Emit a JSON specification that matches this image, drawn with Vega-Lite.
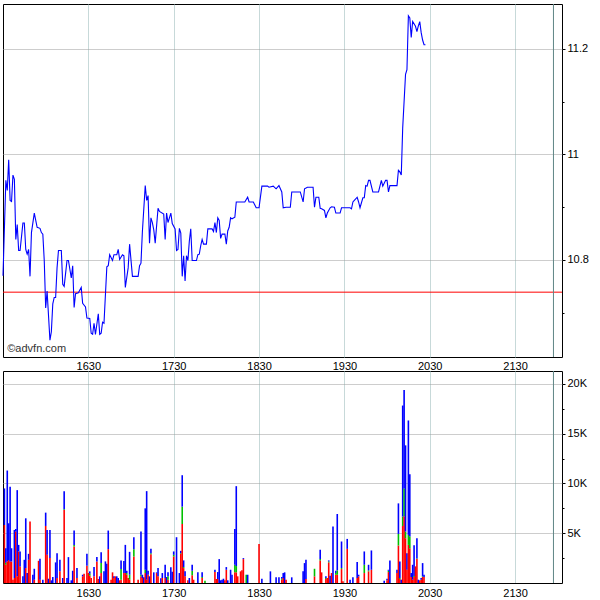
{
  "$schema": "https://vega.github.io/schema/vega-lite/v6.json",
  "padding": {"left": 0, "top": 3, "right": 0, "bottom": 0},
  "background": "white",
  "spacing": 14,
  "bounds": "flush",
  "config": {
    "view": {"stroke": "#000000", "strokeWidth": 1},
    "axis": {"labelFont": "Liberation Sans", "labelFontSize": 11, "labelColor": "#000000", "domain": false, "gridDash": [1, 1], "gridWidth": 1, "title": null}
  },
  "vconcat": [
    {
      "width": 559,
      "height": 353,
      "data": {
        "format": {"parse": {"time": "utc:'%H:%M'"}},
        "values": [
          {"time":"15:30","price":10.77},{"time":"15:32","price":10.951},{"time":"15:33","price":10.932},{"time":"15:34","price":10.99},
          {"time":"15:35","price":10.913},{"time":"15:36","price":10.911},{"time":"15:37","price":10.961},{"time":"15:38","price":10.953},
          {"time":"15:39","price":10.839},{"time":"15:40","price":10.867},{"time":"15:41","price":10.818},{"time":"15:42","price":10.818},
          {"time":"15:44","price":10.87},{"time":"15:45","price":10.87},{"time":"15:46","price":10.82},{"time":"15:47","price":10.811},
          {"time":"15:48","price":10.82},{"time":"15:49","price":10.769},{"time":"15:50","price":10.852},{"time":"15:52","price":10.889},
          {"time":"15:54","price":10.862},{"time":"15:56","price":10.86},{"time":"15:57","price":10.852},{"time":"15:58","price":10.849},
          {"time":"15:59","price":10.799},{"time":"16:00","price":10.709},{"time":"16:01","price":10.741},{"time":"16:03","price":10.648},
          {"time":"16:04","price":10.664},{"time":"16:05","price":10.717},{"time":"16:06","price":10.729},{"time":"16:07","price":10.729},
          {"time":"16:08","price":10.785},{"time":"16:09","price":10.818},{"time":"16:11","price":10.818},{"time":"16:12","price":10.754},
          {"time":"16:13","price":10.75},{"time":"16:15","price":10.799},{"time":"16:16","price":10.799},{"time":"16:18","price":10.766},
          {"time":"16:19","price":10.789},{"time":"16:20","price":10.71},{"time":"16:21","price":10.736},{"time":"16:23","price":10.738},
          {"time":"16:25","price":10.748},{"time":"16:26","price":10.718},{"time":"16:28","price":10.711},{"time":"16:29","price":10.69},
          {"time":"16:31","price":10.689},{"time":"16:32","price":10.661},{"time":"16:33","price":10.659},{"time":"16:34","price":10.68},
          {"time":"16:35","price":10.659},{"time":"16:37","price":10.698},{"time":"16:38","price":10.659},{"time":"16:39","price":10.661},
          {"time":"16:40","price":10.682},{"time":"16:41","price":10.68},{"time":"16:43","price":10.787},{"time":"16:44","price":10.789},
          {"time":"16:45","price":10.81},{"time":"16:47","price":10.799},{"time":"16:48","price":10.81},{"time":"16:50","price":10.81},
          {"time":"16:51","price":10.82},{"time":"16:52","price":10.801},{"time":"16:54","price":10.81},{"time":"16:55","price":10.808},
          {"time":"16:56","price":10.748},{"time":"16:58","price":10.785},{"time":"16:59","price":10.83},{"time":"17:01","price":10.769},
          {"time":"17:05","price":10.769},{"time":"17:06","price":10.789},{"time":"17:07","price":10.794},{"time":"17:08","price":10.854},
          {"time":"17:10","price":10.941},{"time":"17:11","price":10.913},{"time":"17:12","price":10.922},{"time":"17:13","price":10.832},
          {"time":"17:14","price":10.88},{"time":"17:15","price":10.871},{"time":"17:16","price":10.857},{"time":"17:17","price":10.832},
          {"time":"17:19","price":10.898},{"time":"17:20","price":10.892},{"time":"17:23","price":10.887},{"time":"17:24","price":10.839},
          {"time":"17:25","price":10.889},{"time":"17:26","price":10.871},{"time":"17:28","price":10.889},{"time":"17:29","price":10.869},
          {"time":"17:31","price":10.859},{"time":"17:32","price":10.818},{"time":"17:33","price":10.82},{"time":"17:34","price":10.86},
          {"time":"17:35","price":10.851},{"time":"17:36","price":10.769},{"time":"17:37","price":10.808},{"time":"17:38","price":10.76},
          {"time":"17:39","price":10.808},{"time":"17:40","price":10.799},{"time":"17:41","price":10.836},{"time":"17:42","price":10.859},
          {"time":"17:43","price":10.799},{"time":"17:46","price":10.799},{"time":"17:47","price":10.81},{"time":"17:48","price":10.811},
          {"time":"17:49","price":10.827},{"time":"17:50","price":10.839},{"time":"17:51","price":10.83},{"time":"17:53","price":10.83},
          {"time":"17:54","price":10.859},{"time":"17:57","price":10.859},{"time":"17:58","price":10.854},{"time":"17:59","price":10.871},
          {"time":"18:00","price":10.852},{"time":"18:01","price":10.88},{"time":"18:02","price":10.875},{"time":"18:03","price":10.841},
          {"time":"18:04","price":10.849},{"time":"18:06","price":10.849},{"time":"18:07","price":10.83},{"time":"18:08","price":10.855},
          {"time":"18:09","price":10.862},{"time":"18:10","price":10.88},{"time":"18:11","price":10.878},{"time":"18:13","price":10.881},
          {"time":"18:14","price":10.91},{"time":"18:20","price":10.91},{"time":"18:22","price":10.919},{"time":"18:23","price":10.91},
          {"time":"18:26","price":10.91},{"time":"18:28","price":10.899},{"time":"18:30","price":10.899},{"time":"18:32","price":10.94},
          {"time":"18:36","price":10.94},{"time":"18:37","price":10.938},{"time":"18:40","price":10.94},{"time":"18:42","price":10.935},
          {"time":"18:44","price":10.941},{"time":"18:46","price":10.929},{"time":"18:47","price":10.899},{"time":"18:49","price":10.9},
          {"time":"18:52","price":10.9},{"time":"18:53","price":10.929},{"time":"18:59","price":10.929},{"time":"19:01","price":10.91},
          {"time":"19:02","price":10.935},{"time":"19:04","price":10.938},{"time":"19:08","price":10.938},{"time":"19:09","price":10.9},
          {"time":"19:10","price":10.919},{"time":"19:12","price":10.919},{"time":"19:13","price":10.898},{"time":"19:14","price":10.897},
          {"time":"19:16","price":10.894},{"time":"19:17","price":10.88},{"time":"19:18","price":10.889},{"time":"19:20","price":10.899},
          {"time":"19:21","price":10.901},{"time":"19:23","price":10.9},{"time":"19:24","price":10.889},{"time":"19:27","price":10.889},
          {"time":"19:28","price":10.899},{"time":"19:34","price":10.899},{"time":"19:35","price":10.897},{"time":"19:36","price":10.91},
          {"time":"19:37","price":10.913},{"time":"19:39","price":10.919},{"time":"19:40","price":10.91},{"time":"19:41","price":10.899},
          {"time":"19:43","price":10.918},{"time":"19:44","price":10.918},{"time":"19:45","price":10.941},{"time":"19:46","price":10.94},
          {"time":"19:47","price":10.951},{"time":"19:48","price":10.951},{"time":"19:50","price":10.929},{"time":"19:54","price":10.929},
          {"time":"19:56","price":10.951},{"time":"19:57","price":10.94},{"time":"19:59","price":10.951},{"time":"20:00","price":10.951},
          {"time":"20:01","price":10.929},{"time":"20:02","price":10.941},{"time":"20:07","price":10.941},{"time":"20:08","price":10.97},
          {"time":"20:09","price":10.967},{"time":"20:10","price":10.961},{"time":"20:11","price":11.05},{"time":"20:13","price":11.152},
          {"time":"20:14","price":11.161},{"time":"20:15","price":11.263},{"time":"20:16","price":11.259},{"time":"20:17","price":11.222},
          {"time":"20:18","price":11.252},{"time":"20:20","price":11.243},{"time":"20:21","price":11.233},{"time":"20:22","price":11.244},
          {"time":"20:23","price":11.252},{"time":"20:24","price":11.231},{"time":"20:25","price":11.217},{"time":"20:26","price":11.208},
          {"time":"20:27","price":11.208}
        ]
      },
      "layer": [
        {
          "data": {"values": [{}]},
          "mark": {"type": "rule", "color": "#ff0000", "strokeWidth": 1},
          "encoding": {"y": {"datum": 10.739}}
        },
        {
          "data": {"values": [{}]},
          "mark": {"type": "rule", "color": "#5f8585", "strokeWidth": 1},
          "encoding": {"x": {"datum": {"year": 1900, "month": 1, "date": 1, "hours": 21, "minutes": 57, "utc": true}}}
        },
        {
          "mark": {"type": "line", "color": "#0000ff", "strokeWidth": 1.1},
          "encoding": {
            "x": {
              "field": "time", "type": "temporal",
              "scale": {"type": "utc", "padding": 0, "domain": [
                {"year": 1900, "month": 1, "date": 1, "hours": 15, "minutes": 30, "utc": true},
                {"year": 1900, "month": 1, "date": 1, "hours": 22, "minutes": 3, "utc": true}]},
              "axis": {
                "orient": "bottom",
                "values": [
                  {"year": 1900, "month": 1, "date": 1, "hours": 16, "minutes": 30, "utc": true},
                  {"year": 1900, "month": 1, "date": 1, "hours": 17, "minutes": 30, "utc": true},
                  {"year": 1900, "month": 1, "date": 1, "hours": 18, "minutes": 30, "utc": true},
                  {"year": 1900, "month": 1, "date": 1, "hours": 19, "minutes": 30, "utc": true},
                  {"year": 1900, "month": 1, "date": 1, "hours": 20, "minutes": 30, "utc": true},
                  {"year": 1900, "month": 1, "date": 1, "hours": 21, "minutes": 30, "utc": true}],
                "labelExpr": "utcFormat(datum.value, '%H%M')",
                "ticks": false, "labelPadding": 3, "labelFlush": false, "labelOverlap": false,
                "grid": true, "gridColor": "#8fb3b3"
              }
            },
            "y": {
              "field": "price", "type": "quantitative",
              "scale": {"domain": [10.6161, 11.2853], "nice": false, "zero": false},
              "axis": {
                "orient": "right",
                "values": [10.7, 10.8, 10.9, 11, 11.1, 11.2],
                "labelExpr": "indexof([10.8, 11, 11.2], datum.value) >= 0 ? toString(datum.value) : ''",
                "tickColor": "#000000",
                "tickSize": {"condition": {"test": "indexof([10.8, 11, 11.2], datum.value) < 0", "value": 2}, "value": 3},
                "labelPadding": 2,
                "grid": true, "gridColor": "#9a9a9a",
                "gridOpacity": {"condition": {"test": "indexof([10.8, 11, 11.2], datum.value) < 0", "value": 0}, "value": 1}
              }
            }
          }
        },
        {
          "data": {"values": [{}]},
          "mark": {"type": "text", "align": "left", "baseline": "middle", "font": "Liberation Sans", "fontSize": 11, "color": "#333333"},
          "encoding": {
            "x": {"datum": {"year": 1900, "month": 1, "date": 1, "hours": 15, "minutes": 33, "utc": true}},
            "y": {"datum": 10.631},
            "text": {"value": "©advfn.com"}
          }
        }
      ]
    },
    {
      "width": 559,
      "height": 212,
      "data": {
        "format": {"parse": {"time": "utc:'%H:%M'"}},
        "values": [
          {"time":"15:31","s":"sell","v":5830},{"time":"15:31","s":"buy","v":3670},
          {"time":"15:32","s":"sell","v":1830},{"time":"15:32","s":"mid","v":200},{"time":"15:32","s":"buy","v":1470},
          {"time":"15:33","s":"sell","v":2170},{"time":"15:33","s":"buy","v":9130},
          {"time":"15:34","s":"sell","v":2300},{"time":"15:34","s":"buy","v":3700},
          {"time":"15:35","s":"sell","v":2170},{"time":"15:35","s":"buy","v":7500},
          {"time":"15:36","s":"sell","v":2170},{"time":"15:36","s":"buy","v":1330},
          {"time":"15:37","s":"sell","v":330},
          {"time":"15:38","s":"sell","v":500},{"time":"15:38","s":"buy","v":4830},
          {"time":"15:39","s":"sell","v":5170},{"time":"15:39","s":"buy","v":260},
          {"time":"15:40","s":"sell","v":670},{"time":"15:40","s":"buy","v":8660},
          {"time":"15:41","s":"sell","v":3170},{"time":"15:41","s":"buy","v":660},
          {"time":"15:42","s":"sell","v":1670},{"time":"15:42","s":"buy","v":1500},
          {"time":"15:44","s":"buy","v":670},
          {"time":"15:45","s":"buy","v":2330},
          {"time":"15:46","s":"sell","v":1500},{"time":"15:46","s":"buy","v":5000},
          {"time":"15:47","s":"buy","v":1000},
          {"time":"15:48","s":"sell","v":2330},{"time":"15:48","s":"buy","v":600},
          {"time":"15:49","s":"sell","v":6170},
          {"time":"15:51","s":"buy","v":830},
          {"time":"15:52","s":"sell","v":330},{"time":"15:52","s":"buy","v":1100},
          {"time":"15:55","s":"sell","v":2230},
          {"time":"15:56","s":"sell","v":330},{"time":"15:56","s":"buy","v":2100},
          {"time":"15:58","s":"buy","v":330},
          {"time":"16:00","s":"sell","v":5730},{"time":"16:00","s":"buy","v":1340},
          {"time":"16:01","s":"sell","v":2830},{"time":"16:01","s":"buy","v":2500},
          {"time":"16:02","s":"buy","v":430},
          {"time":"16:03","s":"sell","v":2500},{"time":"16:03","s":"buy","v":2830},
          {"time":"16:04","s":"buy","v":270},
          {"time":"16:05","s":"buy","v":600},
          {"time":"16:07","s":"buy","v":2070},
          {"time":"16:08","s":"sell","v":500},{"time":"16:08","s":"buy","v":2500},
          {"time":"16:10","s":"sell","v":1170},{"time":"16:10","s":"buy","v":1160},
          {"time":"16:12","s":"buy","v":500},
          {"time":"16:13","s":"sell","v":7330},{"time":"16:13","s":"mid","v":70},{"time":"16:13","s":"buy","v":1830},
          {"time":"16:15","s":"buy","v":500},
          {"time":"16:16","s":"buy","v":2600},
          {"time":"16:18","s":"buy","v":270},
          {"time":"16:19","s":"buy","v":1230},
          {"time":"16:20","s":"sell","v":3670},{"time":"16:20","s":"mid","v":160},{"time":"16:20","s":"buy","v":1440},
          {"time":"16:22","s":"sell","v":500},{"time":"16:22","s":"buy","v":1000},
          {"time":"16:26","s":"sell","v":670},{"time":"16:26","s":"buy","v":160},
          {"time":"16:27","s":"sell","v":930},
          {"time":"16:29","s":"sell","v":1730},{"time":"16:29","s":"buy","v":1200},
          {"time":"16:30","s":"sell","v":1000},
          {"time":"16:31","s":"sell","v":730},{"time":"16:31","s":"mid","v":200},{"time":"16:31","s":"buy","v":240},
          {"time":"16:32","s":"sell","v":500},
          {"time":"16:34","s":"sell","v":670},{"time":"16:34","s":"buy","v":930},
          {"time":"16:36","s":"sell","v":2170},{"time":"16:36","s":"buy","v":430},
          {"time":"16:37","s":"sell","v":400},
          {"time":"16:38","s":"buy","v":670},
          {"time":"16:39","s":"sell","v":1000},{"time":"16:39","s":"mid","v":1000},{"time":"16:39","s":"buy","v":1100},
          {"time":"16:41","s":"buy","v":1170},
          {"time":"16:42","s":"buy","v":2170},
          {"time":"16:43","s":"buy","v":1930},
          {"time":"16:44","s":"sell","v":3400},{"time":"16:44","s":"buy","v":1870},
          {"time":"16:46","s":"sell","v":330},
          {"time":"16:47","s":"sell","v":1070},
          {"time":"16:48","s":"sell","v":500},{"time":"16:48","s":"buy","v":170},
          {"time":"16:49","s":"sell","v":670},
          {"time":"16:50","s":"buy","v":670},
          {"time":"16:51","s":"buy","v":500},
          {"time":"16:52","s":"sell","v":270},
          {"time":"16:53","s":"sell","v":330},{"time":"16:53","s":"mid","v":1070},{"time":"16:53","s":"buy","v":870},
          {"time":"16:55","s":"sell","v":1000},{"time":"16:55","s":"buy","v":1200},
          {"time":"16:56","s":"sell","v":1000},{"time":"16:56","s":"buy","v":2830},
          {"time":"16:57","s":"sell","v":830},{"time":"16:57","s":"mid","v":170},{"time":"16:57","s":"buy","v":230},
          {"time":"16:58","s":"sell","v":500},
          {"time":"16:59","s":"sell","v":330},{"time":"16:59","s":"mid","v":500},{"time":"16:59","s":"buy","v":2300},
          {"time":"17:02","s":"sell","v":2670},{"time":"17:02","s":"mid","v":730},{"time":"17:02","s":"buy","v":1200},
          {"time":"17:05","s":"sell","v":330},
          {"time":"17:07","s":"sell","v":670},{"time":"17:07","s":"mid","v":160},{"time":"17:07","s":"buy","v":4340},
          {"time":"17:08","s":"sell","v":500},{"time":"17:08","s":"buy","v":330},
          {"time":"17:09","s":"buy","v":570},
          {"time":"17:10","s":"sell","v":1000},{"time":"17:10","s":"mid","v":330},{"time":"17:10","s":"buy","v":6170},
          {"time":"17:11","s":"sell","v":330},{"time":"17:11","s":"buy","v":8900},
          {"time":"17:12","s":"sell","v":830},{"time":"17:12","s":"buy","v":400},
          {"time":"17:13","s":"buy","v":670},
          {"time":"17:14","s":"sell","v":2900},{"time":"17:14","s":"mid","v":100},{"time":"17:14","s":"buy","v":430},
          {"time":"17:16","s":"buy","v":1070},
          {"time":"17:18","s":"sell","v":1000},{"time":"17:18","s":"buy","v":70},
          {"time":"17:19","s":"sell","v":670},{"time":"17:19","s":"buy","v":830},
          {"time":"17:21","s":"buy","v":470},
          {"time":"17:22","s":"sell","v":500},{"time":"17:22","s":"buy","v":500},
          {"time":"17:24","s":"sell","v":500},{"time":"17:24","s":"buy","v":1330},
          {"time":"17:25","s":"buy","v":600},
          {"time":"17:26","s":"sell","v":330},{"time":"17:26","s":"mid","v":340},{"time":"17:26","s":"buy","v":400},
          {"time":"17:28","s":"buy","v":1570},
          {"time":"17:29","s":"buy","v":1130},
          {"time":"17:30","s":"sell","v":2670},{"time":"17:30","s":"mid","v":160},{"time":"17:30","s":"buy","v":340},
          {"time":"17:32","s":"buy","v":4600},
          {"time":"17:34","s":"buy","v":1000},
          {"time":"17:35","s":"sell","v":2930},{"time":"17:35","s":"mid","v":70},{"time":"17:35","s":"buy","v":230},
          {"time":"17:36","s":"sell","v":5930},{"time":"17:36","s":"mid","v":1740},{"time":"17:36","s":"buy","v":3160},
          {"time":"17:37","s":"sell","v":1500},{"time":"17:37","s":"mid","v":100},{"time":"17:37","s":"buy","v":670},
          {"time":"17:38","s":"sell","v":670},{"time":"17:38","s":"buy","v":500},
          {"time":"17:40","s":"sell","v":270},
          {"time":"17:41","s":"buy","v":500},
          {"time":"17:43","s":"sell","v":770},{"time":"17:43","s":"mid","v":460},{"time":"17:43","s":"buy","v":600},
          {"time":"17:44","s":"sell","v":330},
          {"time":"17:47","s":"buy","v":1070},
          {"time":"17:50","s":"sell","v":500},{"time":"17:50","s":"mid","v":100},{"time":"17:50","s":"buy","v":470},
          {"time":"17:52","s":"mid","v":230},
          {"time":"17:59","s":"sell","v":1100},{"time":"17:59","s":"buy","v":230},
          {"time":"18:00","s":"sell","v":400},
          {"time":"18:01","s":"sell","v":400},{"time":"18:01","s":"buy","v":700},
          {"time":"18:02","s":"buy","v":2400},
          {"time":"18:03","s":"buy","v":270},
          {"time":"18:04","s":"buy","v":330},
          {"time":"18:05","s":"buy","v":430},
          {"time":"18:06","s":"sell","v":270},
          {"time":"18:07","s":"sell","v":1330},{"time":"18:07","s":"buy","v":270},
          {"time":"18:08","s":"buy","v":270},
          {"time":"18:10","s":"buy","v":1330},
          {"time":"18:11","s":"buy","v":830},
          {"time":"18:13","s":"sell","v":1070},{"time":"18:13","s":"mid","v":760},{"time":"18:13","s":"buy","v":3600},
          {"time":"18:14","s":"sell","v":1070},{"time":"18:14","s":"mid","v":630},{"time":"18:14","s":"buy","v":8030},
          {"time":"18:15","s":"sell","v":670},
          {"time":"18:17","s":"sell","v":1170},
          {"time":"18:18","s":"sell","v":1270},
          {"time":"18:19","s":"sell","v":2400},{"time":"18:19","s":"buy","v":100},
          {"time":"18:21","s":"mid","v":830},
          {"time":"18:22","s":"buy","v":830},
          {"time":"18:30","s":"sell","v":3930},
          {"time":"18:32","s":"buy","v":430},
          {"time":"18:38","s":"buy","v":1170},
          {"time":"18:42","s":"buy","v":570},
          {"time":"18:44","s":"buy","v":570},
          {"time":"18:46","s":"sell","v":330},{"time":"18:46","s":"mid","v":100},{"time":"18:46","s":"buy","v":170},
          {"time":"18:47","s":"sell","v":500},{"time":"18:47","s":"buy","v":500},
          {"time":"18:48","s":"buy","v":1070},
          {"time":"18:49","s":"sell","v":330},
          {"time":"18:53","s":"buy","v":570},
          {"time":"19:01","s":"buy","v":1170},
          {"time":"19:02","s":"buy","v":2000},
          {"time":"19:03","s":"sell","v":400},{"time":"19:03","s":"buy","v":1930},
          {"time":"19:09","s":"sell","v":670},{"time":"19:09","s":"mid","v":760},
          {"time":"19:13","s":"sell","v":2270},{"time":"19:13","s":"mid","v":130},{"time":"19:13","s":"buy","v":930},
          {"time":"19:14","s":"sell","v":1070},
          {"time":"19:17","s":"sell","v":400},{"time":"19:17","s":"mid","v":100},{"time":"19:17","s":"buy","v":170},
          {"time":"19:18","s":"sell","v":500},
          {"time":"19:19","s":"sell","v":2070},{"time":"19:19","s":"mid","v":100},{"time":"19:19","s":"buy","v":100},
          {"time":"19:20","s":"buy","v":730},
          {"time":"19:21","s":"sell","v":1000},
          {"time":"19:22","s":"buy","v":5670},
          {"time":"19:24","s":"sell","v":830},{"time":"19:24","s":"mid","v":170},{"time":"19:24","s":"buy","v":230},
          {"time":"19:25","s":"sell","v":830},{"time":"19:25","s":"mid","v":440},{"time":"19:25","s":"buy","v":5660},
          {"time":"19:28","s":"sell","v":1400},{"time":"19:28","s":"mid","v":100},{"time":"19:28","s":"buy","v":2670},
          {"time":"19:29","s":"sell","v":170},
          {"time":"19:32","s":"sell","v":3430},{"time":"19:32","s":"buy","v":1000},
          {"time":"19:34","s":"buy","v":330},
          {"time":"19:36","s":"buy","v":570},
          {"time":"19:39","s":"sell","v":500},{"time":"19:39","s":"buy","v":1600},
          {"time":"19:40","s":"sell","v":670},{"time":"19:40","s":"buy","v":160},
          {"time":"19:44","s":"sell","v":1000},{"time":"19:44","s":"mid","v":830},{"time":"19:44","s":"buy","v":1340},
          {"time":"19:47","s":"sell","v":1170},{"time":"19:47","s":"mid","v":100},{"time":"19:47","s":"buy","v":560},
          {"time":"19:49","s":"sell","v":1330},{"time":"19:49","s":"buy","v":1940},
          {"time":"19:58","s":"buy","v":230},
          {"time":"20:00","s":"sell","v":270},{"time":"20:00","s":"buy","v":160},
          {"time":"20:01","s":"sell","v":1100},{"time":"20:01","s":"mid","v":130},{"time":"20:01","s":"buy","v":100},
          {"time":"20:02","s":"buy","v":2270},
          {"time":"20:07","s":"sell","v":1000},{"time":"20:07","s":"buy","v":330},
          {"time":"20:08","s":"sell","v":3770},{"time":"20:08","s":"mid","v":1160},{"time":"20:08","s":"buy","v":3070},
          {"time":"20:09","s":"sell","v":400},{"time":"20:09","s":"mid","v":100},{"time":"20:09","s":"buy","v":1670},
          {"time":"20:10","s":"buy","v":330},
          {"time":"20:11","s":"sell","v":5730},{"time":"20:11","s":"mid","v":940},{"time":"20:11","s":"buy","v":11160},
          {"time":"20:12","s":"sell","v":6700},{"time":"20:12","s":"mid","v":2800},{"time":"20:12","s":"buy","v":9900},
          {"time":"20:13","s":"sell","v":4500},{"time":"20:13","s":"mid","v":670},{"time":"20:13","s":"buy","v":8660},
          {"time":"20:14","s":"sell","v":1330},{"time":"20:14","s":"buy","v":1670},
          {"time":"20:15","s":"sell","v":3830},{"time":"20:15","s":"mid","v":1000},{"time":"20:15","s":"buy","v":11500},
          {"time":"20:16","s":"sell","v":3500},{"time":"20:16","s":"mid","v":1170},{"time":"20:16","s":"buy","v":6260},
          {"time":"20:17","s":"sell","v":600},{"time":"20:17","s":"buy","v":400},
          {"time":"20:18","s":"sell","v":330},{"time":"20:18","s":"buy","v":1500},
          {"time":"20:19","s":"sell","v":600},{"time":"20:19","s":"mid","v":100},{"time":"20:19","s":"buy","v":3100},
          {"time":"20:20","s":"sell","v":1670},
          {"time":"20:21","s":"sell","v":2400},{"time":"20:21","s":"mid","v":50},{"time":"20:21","s":"buy","v":2050},
          {"time":"20:22","s":"buy","v":330},
          {"time":"20:23","s":"sell","v":270},
          {"time":"20:24","s":"sell","v":330},{"time":"20:24","s":"buy","v":170},
          {"time":"20:25","s":"sell","v":600},{"time":"20:25","s":"mid","v":70},{"time":"20:25","s":"buy","v":1330},
          {"time":"20:26","s":"sell","v":600},{"time":"20:26","s":"buy","v":230}
        ]
      },
      "layer": [
        {
          "data": {"values": [{}]},
          "mark": {"type": "rule", "color": "#5f8585", "strokeWidth": 1},
          "encoding": {"x": {"datum": {"year": 1900, "month": 1, "date": 1, "hours": 21, "minutes": 57, "utc": true}}}
        },
        {
          "mark": {"type": "bar", "size": 1.6},
          "encoding": {
            "x": {
              "field": "time", "type": "temporal",
              "scale": {"type": "utc", "padding": 0, "domain": [
                {"year": 1900, "month": 1, "date": 1, "hours": 15, "minutes": 30, "utc": true},
                {"year": 1900, "month": 1, "date": 1, "hours": 22, "minutes": 3, "utc": true}]},
              "axis": {
                "orient": "bottom",
                "values": [
                  {"year": 1900, "month": 1, "date": 1, "hours": 16, "minutes": 30, "utc": true},
                  {"year": 1900, "month": 1, "date": 1, "hours": 17, "minutes": 30, "utc": true},
                  {"year": 1900, "month": 1, "date": 1, "hours": 18, "minutes": 30, "utc": true},
                  {"year": 1900, "month": 1, "date": 1, "hours": 19, "minutes": 30, "utc": true},
                  {"year": 1900, "month": 1, "date": 1, "hours": 20, "minutes": 30, "utc": true},
                  {"year": 1900, "month": 1, "date": 1, "hours": 21, "minutes": 30, "utc": true}],
                "labelExpr": "utcFormat(datum.value, '%H%M')",
                "ticks": false, "labelPadding": 4, "labelFlush": false, "labelOverlap": false,
                "grid": true, "gridColor": "#8fb3b3"
              }
            },
            "y": {
              "field": "v", "type": "quantitative", "stack": "zero",
              "scale": {"domain": [0, 21300], "nice": false},
              "axis": {
                "orient": "right",
                "values": [2500, 5000, 7500, 10000, 12500, 15000, 17500, 20000],
                "labelExpr": "datum.value % 5000 == 0 ? (datum.value / 1000) + 'K' : ''",
                "tickColor": "#000000",
                "tickSize": {"condition": {"test": "datum.value % 5000 != 0", "value": 2}, "value": 3},
                "labelPadding": 2,
                "grid": true, "gridColor": "#9a9a9a",
                "gridOpacity": {"condition": {"test": "datum.value % 5000 != 0", "value": 0}, "value": 1}
              }
            },
            "color": {
              "field": "s", "type": "nominal",
              "scale": {"domain": ["sell", "mid", "buy"], "range": ["#ff0000", "#00c000", "#0000ff"]},
              "legend": null
            },
            "order": {"field": "s", "sort": "descending"}
          }
        }
      ]
    }
  ]
}
